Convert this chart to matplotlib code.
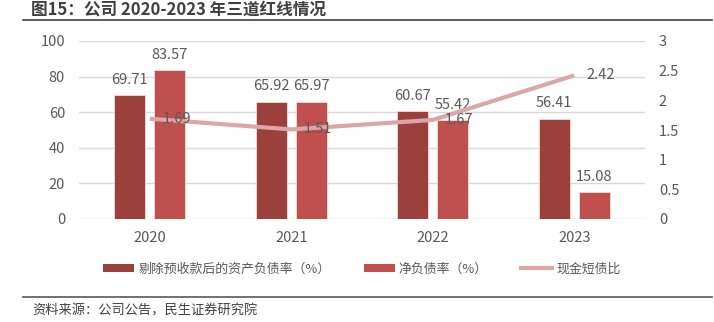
import matplotlib
matplotlib.use("Agg")
import numpy as np
import matplotlib.pyplot as plt
from matplotlib.lines import Line2D
from matplotlib.patches import Patch

plt.rcParams['font.family'] = ['Noto Sans CJK SC', 'DejaVu Sans']

years = ["2020", "2021", "2022", "2023"]
debt_ratio = [69.71, 65.92, 60.67, 56.41]      # 剔除预收款后的资产负债率（%）
net_gearing = [83.57, 65.97, 55.42, 15.08]     # 净负债率（%）
cash_short_debt = [1.69, 1.51, 1.67, 2.42]     # 现金短债比

c_dark = "#9C403C"
c_red = "#C0504D"
c_line = "#DCA6A6"
c_text = "#595959"
c_grid = "#D9D9D9"

W, H = 714, 322
fig = plt.figure(figsize=(W / 100, H / 100), dpi=100)

def fx(px):
    return px / W

def fy(py):
    return 1 - py / H

ax = fig.add_axes([fx(79), fy(219), fx(645 - 79), (219 - 41) / H])
ax2 = ax.twinx()

x = np.arange(len(years))
bw = 0.22
off = 0.142
b1 = ax.bar(x - off, debt_ratio, bw, color=c_dark, edgecolor="#F2DCDB", linewidth=0.6, zorder=2)
b2 = ax.bar(x + off, net_gearing, bw, color=c_red, edgecolor="#F2DCDB", linewidth=0.6, zorder=2)
for bars, vals in ((b1, debt_ratio), (b2, net_gearing)):
    for rect, v in zip(bars, vals):
        ax.annotate(f"{v:.2f}", (rect.get_x() + rect.get_width() / 2, v),
                    xytext=(0, 6), textcoords="offset points",
                    ha="center", va="bottom", fontsize=10.5, color=c_text)

ax.set_xlim(-0.5, 3.5)
ax.set_ylim(0, 100)
ax.set_yticks(range(0, 101, 20))
ax.set_xticks(x)
ax.set_xticklabels(years)
ax.grid(axis="y", color=c_grid, linewidth=1, zorder=0)
ax.set_axisbelow(True)

ax2.plot(x, cash_short_debt, color=c_line, linewidth=3, solid_capstyle="butt", zorder=3)
for xi, v in zip(x, cash_short_debt):
    ax2.annotate(f"{v:.2f}", (xi, v), xytext=(9, 0), textcoords="offset points",
                 ha="left", va="center", fontsize=10.5, color=c_text)
ax2.set_ylim(0, 3)
ax2.set_yticks([0, 0.5, 1, 1.5, 2, 2.5, 3])
ax2.set_yticklabels(["0", "0.5", "1", "1.5", "2", "2.5", "3"])

for a in (ax, ax2):
    for s in a.spines.values():
        s.set_visible(False)
    a.tick_params(length=0, labelsize=10.5, labelcolor=c_text)
ax.tick_params(axis="y", pad=10)
ax.tick_params(axis="x", pad=9)
ax2.tick_params(axis="y", pad=10)

handles = [
    Patch(facecolor=c_dark, edgecolor="none"),
    Patch(facecolor=c_red, edgecolor="none"),
    Line2D([0], [0], color=c_line, linewidth=3),
]
labels = ["剔除预收款后的资产负债率（%）", "净负债率（%）", "现金短债比"]
fig.legend(handles, labels, loc="center", bbox_to_anchor=(fx(362), fy(269)),
           ncol=3, frameon=False, fontsize=9.3, labelcolor=c_text,
           handlelength=2.4, handleheight=0.55, handletextpad=0.3, columnspacing=2.6)

# header and footer
fig.text(fx(31), fy(10), "图15：公司 2020-2023 年三道红线情况", fontsize=12,
         fontweight="bold", color="#404040", ha="left", va="center")
fig.add_artist(Line2D([fx(23), fx(712)], [fy(19.5), fy(19.5)], color="#404040", linewidth=1.2))
fig.add_artist(Line2D([fx(23), fx(712)], [fy(296.5), fy(296.5)], color="#595959", linewidth=1.2))
fig.text(fx(32), fy(311), "资料来源：公司公告，民生证券研究院", fontsize=9.5,
         color="#404040", ha="left", va="center")

fig.savefig("out.png", dpi=100)
